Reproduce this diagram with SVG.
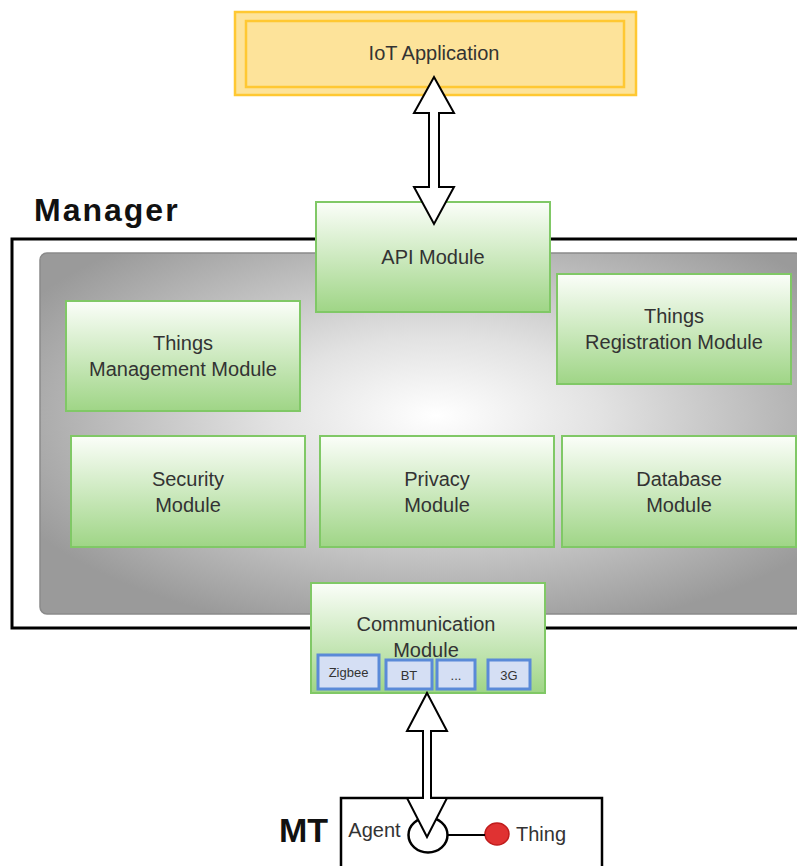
<svg xmlns="http://www.w3.org/2000/svg" width="797" height="866" viewBox="0 0 797 866">
<defs>
<linearGradient id="green" x1="0" y1="0" x2="0" y2="1">
<stop offset="0" stop-color="#fbfef9"/>
<stop offset="1" stop-color="#9fd586"/>
</linearGradient>
<radialGradient id="gray" cx="0.52" cy="0.45" r="0.62">
<stop offset="0" stop-color="#ffffff"/>
<stop offset="0.35" stop-color="#e2e2e2"/>
<stop offset="1" stop-color="#9a9a9a"/>
</radialGradient>
<style>
.mod{fill:url(#green);stroke:#80c866;stroke-width:2}
.t{font-family:"Liberation Sans",Arial,sans-serif;font-size:20px;fill:#333;text-anchor:middle}
.s{font-family:"Liberation Sans",Arial,sans-serif;font-size:13px;fill:#333;text-anchor:middle}
.b{font-family:"Liberation Sans",Arial,sans-serif;font-weight:bold;fill:#111}
.sub{fill:#d5dff4;stroke:#5a8ad8;stroke-width:3}
.arrow{fill:#fff;stroke:#000;stroke-width:2;stroke-linejoin:miter}
</style>
</defs>
<rect width="797" height="866" fill="#fff"/>

<g id="manager">
<text class="b" x="34" y="221" font-size="32" letter-spacing="2">Manager</text>
<rect x="12" y="239" width="800" height="389" fill="#fff" stroke="#000" stroke-width="3"/>
<rect x="40" y="253" width="762" height="361" rx="7" fill="url(#gray)" stroke="#8a8a8a" stroke-width="1.5"/>
</g>

<g id="things-management">
<rect class="mod" x="66" y="301" width="234" height="110"/>
<text class="t" x="183" y="350">Things</text>
<text class="t" x="183" y="376">Management Module</text>
</g>

<g id="things-registration">
<rect class="mod" x="557" y="274" width="234" height="110"/>
<text class="t" x="674" y="323">Things</text>
<text class="t" x="674" y="349">Registration Module</text>
</g>

<g id="security">
<rect class="mod" x="71" y="436" width="234" height="111"/>
<text class="t" x="188" y="486">Security</text>
<text class="t" x="188" y="512">Module</text>
</g>

<g id="privacy">
<rect class="mod" x="320" y="436" width="234" height="111"/>
<text class="t" x="437" y="486">Privacy</text>
<text class="t" x="437" y="512">Module</text>
</g>

<g id="database">
<rect class="mod" x="562" y="436" width="234" height="111"/>
<text class="t" x="679" y="486">Database</text>
<text class="t" x="679" y="512">Module</text>
</g>

<g id="api">
<rect class="mod" x="316" y="202" width="234" height="110"/>
<text class="t" x="433" y="264">API Module</text>
</g>

<g id="communication">
<rect class="mod" x="311" y="583" width="234" height="110"/>
<text class="t" x="426" y="631">Communication</text>
<text class="t" x="426" y="657">Module</text>
<rect class="sub" x="318" y="655" width="61" height="34"/>
<text class="s" x="348.5" y="677">Zigbee</text>
<rect class="sub" x="386" y="660" width="46" height="29"/>
<text class="s" x="409" y="680">BT</text>
<rect class="sub" x="437" y="660" width="38" height="29"/>
<text class="s" x="456" y="680">...</text>
<rect class="sub" x="488" y="660" width="42" height="29"/>
<text class="s" x="509" y="680">3G</text>
</g>

<g id="iot-application">
<rect x="235" y="12" width="401" height="83" fill="#fde39a" stroke="#ffc832" stroke-width="2.5"/>
<rect x="246" y="21" width="378" height="66" fill="#fde39a" stroke="#ffc832" stroke-width="2.5"/>
<text class="t" x="434" y="60">IoT Application</text>
</g>

<g id="mt">
<text class="b" x="279" y="842" font-size="34">MT</text>
<rect x="341" y="798" width="261" height="90" fill="#fff" stroke="#000" stroke-width="2.5"/>
<text class="t" x="374.5" y="837">Agent</text>
</g>

<g id="agent">
<ellipse cx="428" cy="835" rx="19.5" ry="17.5" fill="#fff" stroke="#000" stroke-width="2.5"/>
</g>

<g id="thing">
<ellipse cx="497" cy="834" rx="12" ry="11" fill="#e03232" stroke="#c01c1c" stroke-width="1.5"/>
<text class="t" x="541" y="841">Thing</text>
</g>

<g id="connectors">
<line x1="448" y1="835" x2="485" y2="835" stroke="#000" stroke-width="2"/>
<polygon class="arrow" points="434,77 454,113 439,113 439,187 454,187 434,224 414,187 429,187 429,113 414,113"/>
<polygon class="arrow" points="427,693 447,731 431,731 431,798 447,798 427,837 407,798 423,798 423,731 407,731"/>
</g>
</svg>
